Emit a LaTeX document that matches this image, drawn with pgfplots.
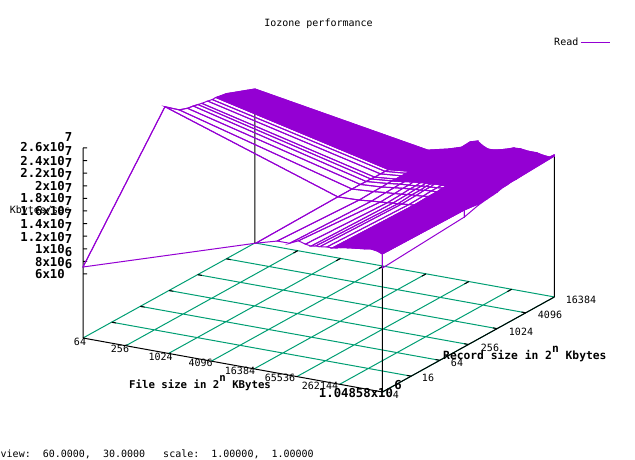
\documentclass[border=0pt]{standalone}
\usepackage{fontspec}
\usepackage{pgfplots}
\usepackage{pgfplotstable}
\pgfplotsset{compat=1.18}
\setmainfont{DejaVu Sans Mono}
\definecolor{vio}{HTML}{9400D3}
\definecolor{grn}{HTML}{009E73}
\pgfplotstableread{
6 2 7.11
6 7.72 25.36
6 8.71 23.62
6 9.29 23.14
6 9.70 22.98
6 10.02 22.82
6 10.29 22.67
6 10.70 22.51
6 11.02 22.35
6 11.28 22.35
6 12.02 22.03
6 14 20.28
14.08 2 15.84
14.08 7.72 16.0
14.08 8.71 16.0
14.08 9.29 16.0
14.08 9.70 15.95
14.08 10.02 15.95
14.08 10.29 15.9
14.08 10.70 15.9
14.08 11.02 15.9
14.08 11.28 15.85
14.08 12.02 15.75
14.08 14 15.52
15.08 2 16.79
15.08 7.72 16.1
15.08 8.71 16.2
15.08 9.29 16.2
15.08 9.70 16.25
15.08 10.02 16.25
15.08 10.29 16.2
15.08 10.70 16.2
15.08 11.02 16.2
15.08 11.28 16.2
15.08 12.02 16.25
15.08 14 16.32
15.66 2 16.79
15.66 7.72 16.3
15.66 8.71 16.4
15.66 9.29 16.45
15.66 9.70 16.5
15.66 10.02 16.5
15.66 10.29 16.55
15.66 10.70 16.55
15.66 11.02 16.6
15.66 11.28 16.6
15.66 12.02 16.7
15.66 14 16.95
16.07 2 17.43
16.07 7.72 16.4
16.07 8.71 16.5
16.07 9.29 16.6
16.07 9.70 16.6
16.07 10.02 16.7
16.07 10.29 16.7
16.07 10.70 16.8
16.07 11.02 16.9
16.07 11.28 16.9
16.07 12.02 17.1
16.07 14 18.06
16.40 2 17.11
16.40 7.72 16.5
16.40 8.71 16.6
16.40 9.29 16.7
16.40 9.70 16.7
16.40 10.02 16.8
16.40 10.29 16.8
16.40 10.70 16.9
16.40 11.02 17
16.40 11.28 17
16.40 12.02 17.3
16.40 14 18.38
16.66 2 16.95
16.66 7.72 16.6
16.66 8.71 16.7
16.66 9.29 16.8
16.66 9.70 16.8
16.66 10.02 16.9
16.66 10.29 16.9
16.66 10.70 17
16.66 11.02 17
16.66 11.28 17.1
16.66 12.02 17.2
16.66 14 17.75
16.88 2 17.11
16.88 7.72 16.6
16.88 8.71 16.8
16.88 9.29 16.8
16.88 9.70 16.9
16.88 10.02 16.9
16.88 10.29 17
16.88 10.70 17
16.88 11.02 17.1
16.88 11.28 17.1
16.88 12.02 17.2
16.88 14 17.43
17.07 2 17.11
17.07 7.72 16.7
17.07 8.71 16.8
17.07 9.29 16.9
17.07 9.70 16.9
17.07 10.02 17
17.07 10.29 17
17.07 10.70 17.1
17.07 11.02 17.1
17.07 11.28 17.1
17.07 12.02 17.2
17.07 14 17.4
17.40 2 17.27
17.40 7.72 16.8
17.40 8.71 16.9
17.40 9.29 17
17.40 9.70 17
17.40 10.02 17
17.40 10.29 17.1
17.40 10.70 17.1
17.40 11.02 17.1
17.40 11.28 17.2
17.40 12.02 17.3
17.40 14 17.59
17.66 2 17.27
17.66 7.72 16.9
17.66 8.71 17
17.66 9.29 17
17.66 9.70 17.1
17.66 10.02 17.1
17.66 10.29 17.1
17.66 10.70 17.2
17.66 11.02 17.2
17.66 11.28 17.2
17.66 12.02 17.3
17.66 14 17.83
17.88 2 17.43
17.88 7.72 17
17.88 8.71 17.1
17.88 9.29 17.1
17.88 9.70 17.1
17.88 10.02 17.2
17.88 10.29 17.2
17.88 10.70 17.2
17.88 11.02 17.3
17.88 11.28 17.3
17.88 12.02 17.4
17.88 14 18.06
18.07 2 17.59
18.07 7.72 17
18.07 8.71 17.1
18.07 9.29 17.2
18.07 9.70 17.2
18.07 10.02 17.2
18.07 10.29 17.3
18.07 10.70 17.3
18.07 11.02 17.3
18.07 11.28 17.4
18.07 12.02 17.5
18.07 14 18.3
18.40 2 17.75
18.40 7.72 17.1
18.40 8.71 17.2
18.40 9.29 17.3
18.40 9.70 17.3
18.40 10.02 17.3
18.40 10.29 17.4
18.40 10.70 17.4
18.40 11.02 17.4
18.40 11.28 17.5
18.40 12.02 17.6
18.40 14 18.38
18.77 2 17.9
18.77 7.72 17.2
18.77 8.71 17.3
18.77 9.29 17.3
18.77 9.70 17.4
18.77 10.02 17.4
18.77 10.29 17.4
18.77 10.70 17.5
18.77 11.02 17.5
18.77 11.28 17.5
18.77 12.02 17.7
18.77 14 18.22
19.16 2 18.06
19.16 7.72 17.3
19.16 8.71 17.4
19.16 9.29 17.4
19.16 9.70 17.4
19.16 10.02 17.5
19.16 10.29 17.5
19.16 10.70 17.5
19.16 11.02 17.6
19.16 11.28 17.6
19.16 12.02 17.7
19.16 14 18.22
19.47 2 18.22
19.47 7.72 17.4
19.47 8.71 17.4
19.47 9.29 17.5
19.47 9.70 17.5
19.47 10.02 17.5
19.47 10.29 17.6
19.47 10.70 17.6
19.47 11.02 17.6
19.47 11.28 17.7
19.47 12.02 17.8
19.47 14 18.0
19.77 2 18.06
19.77 7.72 17.5
19.77 8.71 17.3
19.77 9.29 17.4
19.77 9.70 17.5
19.77 10.02 17.6
19.77 10.29 17.6
19.77 10.70 17.7
19.77 11.02 17.7
19.77 11.28 17.8
19.77 12.02 17.9
19.77 14 17.9
19.99 2 17.75
19.99 7.72 17.54
19.99 8.71 17.27
19.99 9.29 17.4
19.99 9.70 17.5
19.99 10.02 17.6
19.99 10.29 17.75
19.99 10.70 17.8
19.99 11.02 17.9
19.99 11.28 17.9
19.99 12.02 18.06
19.99 14 18.38
20 2 15.52
20 7.72 16.43
20 8.71 17.1
20 9.29 17.3
20 9.70 17.4
20 10.02 17.5
20 10.29 17.7
20 10.70 17.8
20 11.02 17.9
20 11.28 17.9
20 12.02 18.0
20 14 18.22
}\surfacetable
\begin{document}
\begin{tikzpicture}[x=1pt,y=1pt]
\useasboundingbox (0,0) rectangle (635,459);
\begin{axis}[
  at={(83pt,67pt)},anchor=south west,
  hide axis,clip=false,
  x={(21.39pt,-3.857pt)},y={(14.33pt,7.92pt)},z={(0pt,6.3pt)},
  xmin=6,xmax=20,ymin=2,ymax=14,zmin=-4.16,zmax=26,
  colormap={viol}{rgb255=(148,0,211) rgb255=(148,0,211)},
  legend plot pos=right,
  legend image code/.code={\draw[#1] (0pt,0pt) -- (29pt,0pt);},
  legend style={at={(1.119,1.032)},anchor=east,draw=none,fill=none,inner sep=0pt,font=\fontsize{10}{12}\selectfont},
]
% base grid
\addplot3[grn,line width=1pt,forget plot,empty line=jump] coordinates {
(6,2,-4.16) (6,14,-4.16)

(8,2,-4.16) (8,14,-4.16)

(10,2,-4.16) (10,14,-4.16)

(12,2,-4.16) (12,14,-4.16)

(14,2,-4.16) (14,14,-4.16)

(16,2,-4.16) (16,14,-4.16)

(18,2,-4.16) (18,14,-4.16)

(20,2,-4.16) (20,14,-4.16)

(6,4,-4.16) (20,4,-4.16)

(6,6,-4.16) (20,6,-4.16)

(6,8,-4.16) (20,8,-4.16)

(6,10,-4.16) (20,10,-4.16)

(6,12,-4.16) (20,12,-4.16)

(6,14,-4.16) (20,14,-4.16)
};
% black border, verticals
\addplot3[black,line width=1pt,forget plot,empty line=jump] coordinates {
(6,2,-4.16) (20,2,-4.16) (20,14,-4.16)

(6,2,-4.16) (6,2,26)

(20,2,-4.16) (20,2,17.8)

(20,14,-4.16) (20,14,18.2)

(6,14,-4.16) (6,14,20.2)
};
% ticks
\addplot3[black,line width=1pt,forget plot,empty line=jump] coordinates {
(6,4,-4.16) (6.2,4,-4.16)

(6,6,-4.16) (6.2,6,-4.16)

(6,8,-4.16) (6.2,8,-4.16)

(6,10,-4.16) (6.2,10,-4.16)

(6,12,-4.16) (6.2,12,-4.16)

(20,4,-4.16) (19.8,4,-4.16)

(20,6,-4.16) (19.8,6,-4.16)

(20,8,-4.16) (19.8,8,-4.16)

(20,10,-4.16) (19.8,10,-4.16)

(20,12,-4.16) (19.8,12,-4.16)

(8,14,-4.16) (8,13.7,-4.16)

(10,14,-4.16) (10,13.7,-4.16)

(12,14,-4.16) (12,13.7,-4.16)

(14,14,-4.16) (14,13.7,-4.16)

(16,14,-4.16) (16,13.7,-4.16)

(18,14,-4.16) (18,13.7,-4.16)

(6,2,26) (6.141,2.069,26)

(6,2,24) (6.141,2.069,24)

(6,2,22) (6.141,2.069,22)

(6,2,20) (6.141,2.069,20)

(6,2,18) (6.141,2.069,18)

(6,2,16) (6.141,2.069,16)

(6,2,14) (6.141,2.069,14)

(6,2,12) (6.141,2.069,12)

(6,2,10) (6.141,2.069,10)

(6,2,8) (6.141,2.069,8)

(6,2,6) (6.141,2.069,6)
};
% solid parts of the dense surface
\addplot3[fill=vio,draw=vio,line width=1pt,forget plot] coordinates {
(6,14,20.28) (14.08,14,15.52) (15.08,14,16.32) (15.66,14,16.95) (16.07,14,18.06) (16.40,14,18.38) (16.66,14,17.75) (16.88,14,17.43) (17.07,14,17.4) (17.40,14,17.59) (17.66,14,17.83) (17.88,14,18.06) (18.07,14,18.3) (18.40,14,18.38) (18.77,14,18.22) (19.16,14,18.22) (19.47,14,18.0) (19.77,14,17.9) (19.99,14,18.38) (20,14,18.22)
(20,11.28,17.9) (19.77,11.28,17.8) (19.47,11.28,17.7) (19.16,11.28,17.6) (18.77,11.28,17.5) (18.40,11.28,17.5) (18.07,11.28,17.4) (17.88,11.28,17.3) (17.66,11.28,17.2) (17.40,11.28,17.2) (17.07,11.28,17.1) (16.88,11.28,17.1) (16.66,11.28,17.1) (16.40,11.28,17) (16.07,11.28,16.9) (15.66,11.28,16.6) (15.08,11.28,16.2) (14.08,11.28,15.85)
(6,11.28,22.35) (6,12.02,22.03)
} -- cycle;
\addplot3[fill=vio,draw=vio,line width=1pt,forget plot] coordinates {
(17.66,2,17.27) (17.88,2,17.43) (18.07,2,17.59) (18.40,2,17.75) (18.77,2,17.9) (19.16,2,18.06) (19.47,2,18.22) (19.77,2,18.06) (19.99,2,17.75)
(19.99,7.72,17.54) (19.99,8.71,17.27) (19.99,9.29,17.4) (19.99,9.70,17.5) (19.99,10.02,17.6) (19.99,10.29,17.75) (19.99,10.70,17.8) (19.99,11.02,17.9) (19.99,11.28,17.9)
(19.77,11.28,17.8) (19.47,11.28,17.7) (19.16,11.28,17.6) (18.77,11.28,17.5) (18.40,11.28,17.5) (18.07,11.28,17.4) (17.88,11.28,17.3) (17.66,11.28,17.2)
(17.66,11.02,17.2) (17.66,10.70,17.2) (17.66,10.29,17.1) (17.66,10.02,17.1) (17.66,9.70,17.1) (17.66,9.29,17) (17.66,8.71,17) (17.66,7.72,16.9)
} -- cycle;
\addplot3[fill=vio,draw=vio,line width=1pt,forget plot] coordinates {
(15.08,10.02,16.25) (15.66,10.02,16.5) (16.07,10.02,16.7) (16.40,10.02,16.8) (16.66,10.02,16.9) (16.88,10.02,16.9) (17.07,10.02,17) (17.40,10.02,17) (17.66,10.02,17.1)
(17.66,11.28,17.2) (17.40,11.28,17.2) (17.07,11.28,17.1) (16.88,11.28,17.1) (16.66,11.28,17.1) (16.40,11.28,17) (16.07,11.28,16.9) (15.66,11.28,16.6) (15.08,11.28,16.2)
} -- cycle;
% surface mesh
\addplot3[mesh,mesh/rows=20,line width=1pt,forget plot] table {\surfacetable};
% the edge at the smallest file size carries the legend entry
\addplot3[vio,line width=1pt] coordinates {(6,2,7.11) (6,7.72,25.36) (6,8.71,23.62) (6,9.29,23.14) (6,9.70,22.98) (6,10.02,22.82)};
\addlegendentry{Read}
\end{axis}
\begin{scope}[x=1pt,y=-1pt,shift={(0,459pt)}]
\tikzset{reg/.style={inner sep=0pt,font=\fontsize{10}{12}\selectfont},
  bf/.style={inner sep=0pt,font=\fontsize{12.3}{14}\selectfont\bfseries},
  lb/.style={inner sep=0pt,font=\fontsize{10.7}{13}\selectfont\bfseries},
  lc/.style={inner sep=0pt,font=\fontsize{11.3}{13}\selectfont\bfseries}}
\node[reg] at (318.5,24) {Iozone performance};
\foreach \yy/\tt/\ee in {147.3/2.6/7,160.7/2.4/7,173.3/2.2/7,186/2/7,198.3/1.8/7,211/1.6/7,224.3/1.4/7,236.7/1.2/7,249.3/1/7,262/8/6,274/6/6}{
  \node[bf,anchor=east] at (65,\yy) {\tt x10};
  \node[bf] at (68.5,\yy-10) {\ee};
}
\node[reg] at (40,211) {Kbytes/sec};
\foreach \xx/\yy/\tt in {80/342/64,120/349/256,160.7/356.7/1024,200.7/363/4096,240/371/16384,280/378/65536,320/385.7/262144}{
  \node[reg] at (\xx,\yy) {\tt};
}
\node[bf] at (356,393.3) {1.04858x10};
\node[bf] at (398,385) {6};
\foreach \xx/\yy/\tt in {396/395/4,428/378/16,457/363/64,490/348/256,521/331.7/1024,550/315/4096,581/300/16384}{
  \node[reg] at (\xx,\yy) {\tt};
}
\node[lb,anchor=west] at (129,382.7) {File size in 2\raisebox{7pt}{n} KBytes};
\node[lc,anchor=west] at (443,354) {Record size in 2\raisebox{7pt}{n} Kbytes};
\node[reg,anchor=west] at (0.5,454) {view:~~60.0000,~~30.0000~~~scale:~~1.00000,~~1.00000};
\end{scope}
\end{tikzpicture}
\end{document}
